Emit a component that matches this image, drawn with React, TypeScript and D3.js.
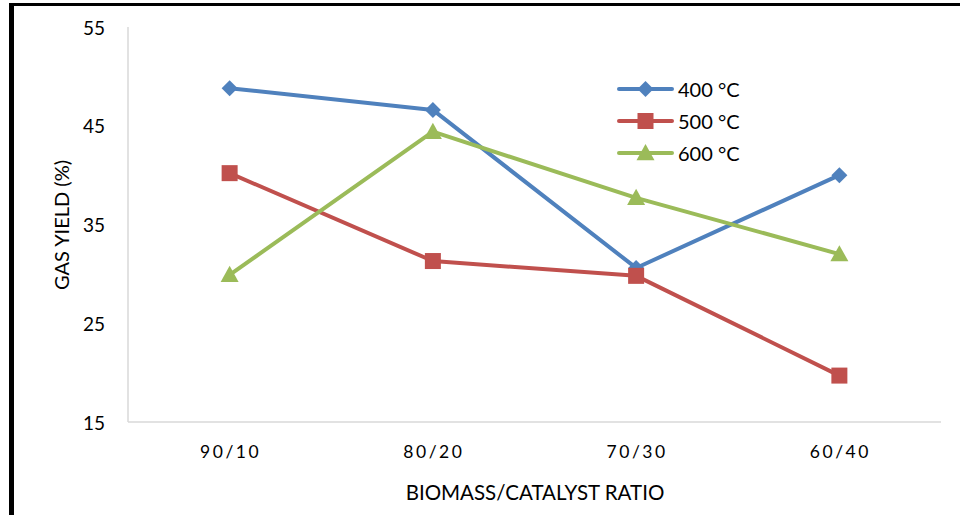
import React from "react";
import * as d3 from "d3";

const categories = ["90/10", "80/20", "70/30", "60/40"];
const s400 = [48.8, 46.6, 30.6, 40.0];
const s500 = [40.2, 31.3, 29.8, 19.7];
const s600 = [29.9, 44.4, 37.7, 32.0];
const yTicks = [15, 25, 35, 45, 55];
const seriesNames = ["400 °C", "500 °C", "600 °C"];
const colors = ["#4f81bd", "#c0504d", "#9bbb59"];
const shapes = ["diamond", "square", "triangle"];

const W = 960, H = 515;
const left = 128, right = 941, top = 27, bottom = 422;
const font = "Lato, 'Open Sans', sans-serif";

function Marker({ shape, x, y, color }: { shape: string; x: number; y: number; color: string }) {
  if (shape === "diamond") {
    const r = 8;
    return <path d={`M${x},${y - r}L${x + r},${y}L${x},${y + r}L${x - r},${y}Z`} fill={color} />;
  }
  if (shape === "square") {
    const r = 8;
    return <rect x={x - r} y={y - r} width={2 * r} height={2 * r} fill={color} />;
  }
  const r = 9;
  return <path d={`M${x},${y - r}L${x + r},${y + r * 0.8}L${x - r},${y + r * 0.8}Z`} fill={color} />;
}

export default function App() {
  const x = d3.scaleBand<string>().domain(categories).range([left, right]);
  const y = d3.scaleLinear().domain([15, 55]).range([bottom, top]);
  const allSeries = [s400, s500, s600];
  const line = d3
    .line<number>()
    .x((_, i) => (x(categories[i]) as number) + x.bandwidth() / 2)
    .y((d) => y(d));

  return (
    <svg width={W} height={H} style={{ position: "absolute", left: 0, top: 0, background: "#fff" }}>
      <rect x={0} y={0} width={W} height={H} fill="#fff" />
      {/* frame */}
      <line x1={9} x2={W} y1={4.5} y2={4.5} stroke="#000" strokeWidth={3} />
      <line x1={11.5} x2={11.5} y1={3} y2={H} stroke="#000" strokeWidth={5} />
      {/* axes */}
      <line x1={left} x2={left} y1={top} y2={bottom} stroke="#d9d9d9" strokeWidth={1.5} />
      <line x1={left} x2={right} y1={bottom} y2={bottom} stroke="#d9d9d9" strokeWidth={1.5} />
      {yTicks.map((t) => (
        <text key={t} x={105} y={y(t)} textAnchor="end" dominantBaseline="central" fontFamily={font} fontSize={19} fill="#000">
          {t}
        </text>
      ))}
      {categories.map((c) => (
        <text key={c} x={(x(c) as number) + x.bandwidth() / 2 + 1} y={451} textAnchor="middle" dominantBaseline="central" fontFamily={font} fontSize={17.5} letterSpacing={2.5} fill="#000">
          {c}
        </text>
      ))}
      <text x={535} y={492} textAnchor="middle" dominantBaseline="central" fontFamily={font} fontSize={20.5} fill="#000">
        BIOMASS/CATALYST RATIO
      </text>
      <text transform={`translate(61,225) rotate(-90)`} textAnchor="middle" dominantBaseline="central" fontFamily={font} fontSize={20} fill="#000">
        GAS YIELD (%)
      </text>
      {allSeries.map((s, si) => (
        <g key={si}>
          <path d={line(s) as string} fill="none" stroke={colors[si]} strokeWidth={4} strokeLinejoin="round" strokeLinecap="round" />
          {s.map((v, i) => (
            <Marker key={i} shape={shapes[si]} x={(x(categories[i]) as number) + x.bandwidth() / 2} y={y(v)} color={colors[si]} />
          ))}
        </g>
      ))}
      {/* legend */}
      {seriesNames.map((n, i) => {
        const ly = 89 + i * 32;
        return (
          <g key={n}>
            <line x1={619} x2={672} y1={ly} y2={ly} stroke={colors[i]} strokeWidth={4} strokeLinecap="round" />
            <Marker shape={shapes[i]} x={645.5} y={ly} color={colors[i]} />
            <text x={678} y={ly} dominantBaseline="central" fontFamily={font} fontSize={20} fill="#000">
              {n}
            </text>
          </g>
        );
      })}
    </svg>
  );
}
